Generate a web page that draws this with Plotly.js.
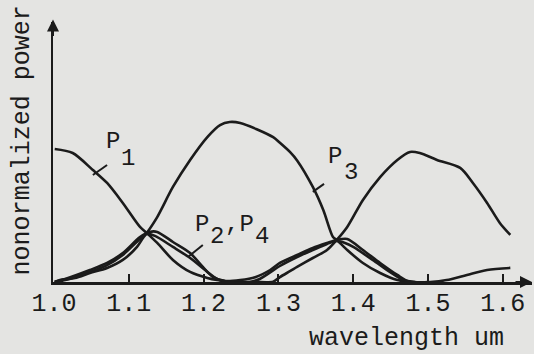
<!DOCTYPE html>
<html>
<head>
<meta charset="utf-8">
<script src="https://cdn.plot.ly/plotly-3.0.1.min.js"></script>
<style>
  html, body { margin: 0; padding: 0; background: #e4e4e2; }
  #chart { width: 534px; height: 354px; }
</style>
</head>
<body>
<div id="chart"></div>
<script>
// ---- data ----
const tickValues = [1.0, 1.1, 1.2, 1.3, 1.4, 1.5, 1.6];
const tickLabels = ["1.0", "1.1", "1.2", "1.3", "1.4", "1.5", "1.6"];

const p1Wavelength = [1.001,1.025,1.052,1.071,1.092,1.115,1.124,1.138,1.159,1.182,1.205,1.218,1.242,1.269,1.293,1.302,1.316,1.325,1.346,1.365,1.378,1.392,1.413,1.436,1.459,1.476,1.489,1.512,1.543,1.560,1.579,1.596,1.610];
const p1Power      = [0.831,0.806,0.700,0.619,0.494,0.344,0.306,0.244,0.138,0.063,0.025,0.012,0.000,0.000,0.002,0.031,0.069,0.094,0.150,0.200,0.263,0.344,0.513,0.656,0.763,0.813,0.806,0.763,0.713,0.619,0.494,0.369,0.294];

const p3Wavelength = [1.001,1.008,1.028,1.048,1.071,1.092,1.111,1.119,1.124,1.138,1.159,1.182,1.205,1.222,1.235,1.249,1.271,1.293,1.302,1.316,1.325,1.346,1.360,1.373,1.378,1.392,1.413,1.436,1.459,1.480,1.503,1.525,1.552,1.579,1.610];
const p3Power      = [0.000,0.012,0.025,0.056,0.088,0.138,0.219,0.275,0.306,0.406,0.594,0.763,0.906,0.981,1.000,0.994,0.955,0.905,0.870,0.810,0.760,0.594,0.450,0.281,0.263,0.200,0.119,0.056,0.012,0.000,0.000,0.012,0.044,0.075,0.088];

const p2Wavelength = [1.001,1.015,1.048,1.071,1.092,1.115,1.128,1.138,1.159,1.182,1.199,1.213,1.229,1.249,1.269,1.289,1.302,1.325,1.346,1.365,1.378,1.392,1.413,1.436,1.459,1.476,1.500];
const p2Power      = [0.000,0.019,0.075,0.119,0.181,0.281,0.313,0.313,0.250,0.181,0.094,0.031,0.006,0.012,0.030,0.075,0.119,0.169,0.213,0.244,0.263,0.269,0.200,0.119,0.044,0.000,0.000];

const p4Wavelength = [1.001,1.015,1.048,1.071,1.092,1.115,1.124,1.135,1.159,1.182,1.205,1.218,1.235,1.262,1.275,1.302,1.325,1.346,1.365,1.378,1.389,1.400,1.426,1.449,1.467,1.483];
const p4Power      = [0.000,0.012,0.063,0.106,0.169,0.269,0.300,0.288,0.219,0.150,0.063,0.019,0.000,0.000,0.019,0.100,0.156,0.200,0.238,0.256,0.244,0.219,0.138,0.063,0.012,0.000];

// ---- styling ----
const INK = "#1b1b1b";
const PAPER = "#e4e4e2";
const FONT = "Liberation Mono, DejaVu Sans Mono, monospace";

function curve(name, x, y) {
  return {
    type: "scatter", mode: "lines", name: name, x: x, y: y,
    line: { color: INK, width: 2.6, shape: "spline", smoothing: 0.8 },
    hoverinfo: "x+y+name"
  };
}

const traces = [
  curve("P1", p1Wavelength, p1Power),
  curve("P3", p3Wavelength, p3Power),
  curve("P2", p2Wavelength, p2Power),
  curve("P4", p4Wavelength, p4Power)
];

function glyph(text, x, y) {
  return { text: text, x: x, y: y, xref: "x", yref: "y", showarrow: false,
           xanchor: "center", yanchor: "middle", borderpad: 0,
           font: { family: FONT, size: 24, color: INK } };
}

const annotations = [
  glyph("P", 1.079, 0.881), glyph("1", 1.099, 0.775),
  glyph("P", 1.1985, 0.3625), glyph("2", 1.2185, 0.2875),
  glyph(",P", 1.2480, 0.3625), glyph("4", 1.2775, 0.2875),
  glyph("P", 1.3757, 0.7875), glyph("3", 1.3975, 0.6875),
  { text: "nonormalized power", xref: "paper", yref: "paper", x: -0.064, y: 0.546,
    textangle: -90, showarrow: false, xanchor: "center", yanchor: "middle",
    font: { family: FONT, size: 25, color: INK } },
  { text: "wavelength um", xref: "paper", yref: "paper", x: 0.946, y: -0.218,
    showarrow: false, xanchor: "right", yanchor: "middle",
    font: { family: FONT, size: 25, color: INK } },
  // axis arrow heads
  { text: "", xref: "paper", yref: "paper", x: 0, y: 1.01, ax: 0, ay: 18,
    showarrow: true, arrowhead: 2, arrowsize: 1.2, arrowwidth: 2, arrowcolor: INK },
  { text: "", xref: "paper", yref: "paper", x: 1.0, y: 0, ax: -18, ay: 0,
    showarrow: true, arrowhead: 2, arrowsize: 1.2, arrowwidth: 2, arrowcolor: INK }
];

function leader(x0, y0, x1, y1) {
  return { type: "line", xref: "x", yref: "y", x0: x0, y0: y0, x1: x1, y1: y1,
           line: { color: INK, width: 2 } };
}

const shapes = [
  leader(1.052, 0.669, 1.071, 0.731),
  leader(1.179, 0.156, 1.199, 0.231),
  leader(1.346, 0.563, 1.361, 0.613)
];

const layout = {
  width: 534, height: 354,
  margin: { l: 53, r: 2, t: 22, b: 72, pad: 0 },
  paper_bgcolor: PAPER, plot_bgcolor: PAPER,
  showlegend: false,
  font: { family: FONT, size: 25, color: INK },
  xaxis: {
    range: [0.9987, 1.639], showgrid: false, zeroline: false,
    showline: true, linecolor: INK, linewidth: 2.5,
    tickmode: "array", tickvals: tickValues, ticktext: tickLabels,
    ticks: "inside", ticklen: 8, tickwidth: 2, tickcolor: INK,
    ticklabelstandoff: -4,
    tickfont: { family: FONT, size: 25, color: INK }
  },
  yaxis: {
    range: [0, 1.625], showgrid: false, zeroline: false,
    showline: true, linecolor: INK, linewidth: 2.5,
    showticklabels: false, ticks: ""
  },
  annotations: annotations,
  shapes: shapes
};

Plotly.newPlot("chart", traces, layout, { displayModeBar: false, staticPlot: true });
</script>
</body>
</html>
